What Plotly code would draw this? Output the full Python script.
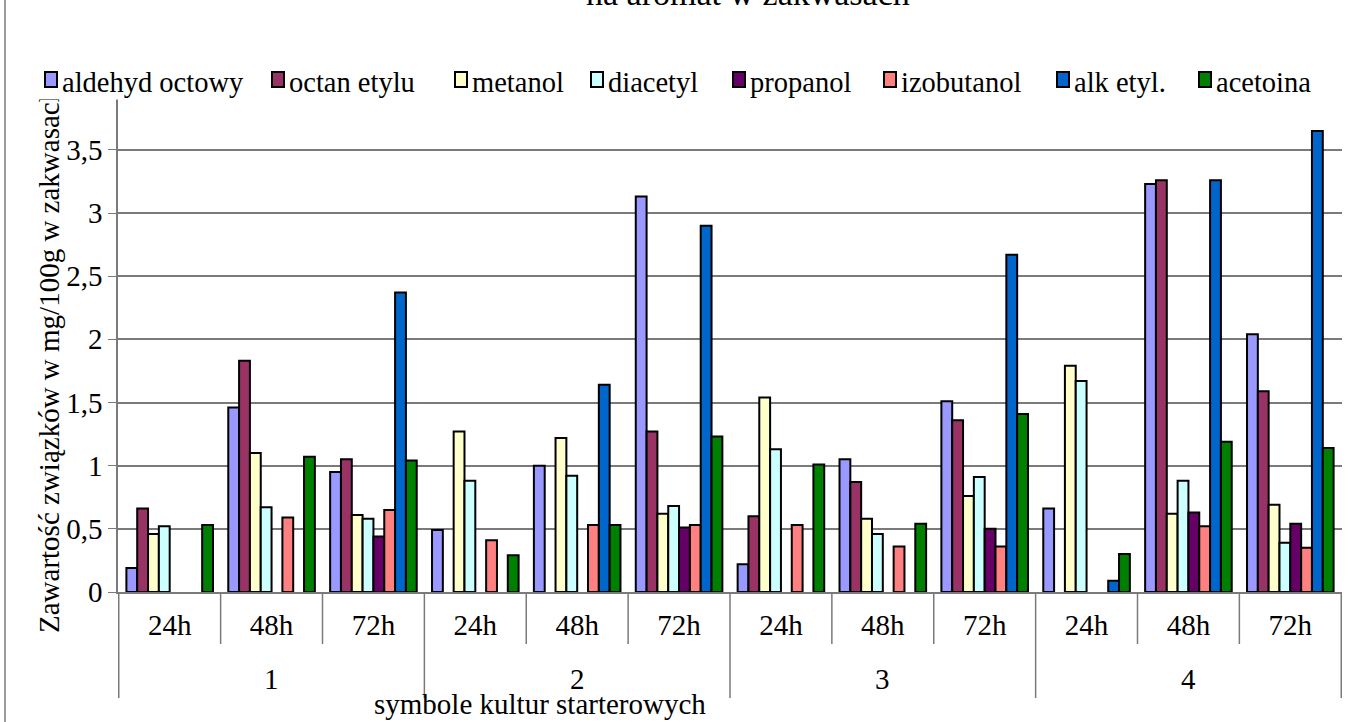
import plotly.graph_objects as go

# Starter culture symbols (outer level) and fermentation times (inner level)
cultures = ["1", "2", "3", "4"]
times = ["24h", "48h", "72h"]

# Compound contents in mg/100g, ordered culture by culture, 24h/48h/72h (None = not detected)
aldehyd_octowy = [0.19, 1.46, 0.95, 0.49, 1.00, 3.13, 0.22, 1.05, 1.51, 0.66, 3.23, 2.04]
octan_etylu = [0.66, 1.83, 1.05, None, None, 1.27, 0.60, 0.87, 1.36, None, 3.26, 1.59]
metanol = [0.46, 1.10, 0.61, 1.27, 1.22, 0.62, 1.54, 0.58, 0.76, 1.79, 0.62, 0.69]
diacetyl = [0.52, 0.67, 0.58, 0.88, 0.92, 0.68, 1.13, 0.46, 0.91, 1.67, 0.88, 0.39]
propanol = [None, None, 0.44, None, None, 0.51, None, None, 0.50, None, 0.63, 0.54]
izobutanol = [None, 0.59, 0.65, 0.41, 0.53, 0.53, 0.53, 0.36, 0.36, None, 0.52, 0.35]
alk_etyl = [None, None, 2.37, None, 1.64, 2.90, None, None, 2.67, 0.09, 3.26, 3.65]
acetoina = [0.53, 1.07, 1.04, 0.29, 0.53, 1.23, 1.01, 0.54, 1.41, 0.30, 1.19, 1.14]

series = [
    ("aldehyd octowy", aldehyd_octowy, "#9999FF"),
    ("octan etylu", octan_etylu, "#993366"),
    ("metanol", metanol, "#FFFFCC"),
    ("diacetyl", diacetyl, "#CCFFFF"),
    ("propanol", propanol, "#660066"),
    ("izobutanol", izobutanol, "#FF8080"),
    ("alk etyl.", alk_etyl, "#0066CC"),
    ("acetoina", acetoina, "#008000"),
]

FONT = "Liberation Serif"
FS = 29
LEG_FS = 28.5
GRID = "#7a7a7a"

W, H = 1355, 722
M_L, M_R, M_T, M_B = 118, 13, 93, 130
PLOT_W = W - M_L - M_R
PLOT_H = H - M_T - M_B


def px_x(px):
    """Page pixel column -> paper x."""
    return (px - M_L) / PLOT_W


def px_y(py):
    """Page pixel row -> paper y."""
    return (H - M_B - py) / PLOT_H


# One category per culture/time pair; labels show only the time
cat_keys = [f"{c}|{t}" for c in cultures for t in times]
cat_text = [t for c in cultures for t in times]

fig = go.Figure()
for name, vals, color in series:
    fig.add_trace(go.Bar(
        name=name,
        x=cat_keys,
        y=vals,
        marker=dict(color=color, line=dict(color="black", width=2)),
    ))

fig.update_layout(
    width=W,
    height=H,
    barmode="group",
    bargap=0.15,
    bargroupgap=0,
    separators=", ",
    plot_bgcolor="white",
    paper_bgcolor="white",
    font=dict(family=FONT, size=FS, color="black"),
    margin=dict(l=M_L, r=M_R, t=M_T, b=M_B),
    showlegend=False,
    xaxis=dict(
        type="category",
        categoryorder="array", categoryarray=cat_keys,
        tickvals=cat_keys, ticktext=cat_text,
        showline=True, linecolor=GRID, linewidth=1.5,
        ticks="", ticklabelstandoff=6,
        tickfont=dict(family=FONT, size=FS),
        showgrid=False,
    ),
    yaxis=dict(
        range=[0, 3.95],
        dtick=0.5,
        showgrid=True, gridcolor=GRID, gridwidth=1.5,
        showline=True, linecolor=GRID, linewidth=1.5,
        ticks="outside", ticklen=8, tickcolor=GRID,
        tickfont=dict(family=FONT, size=FS),
        zeroline=False,
    ),
)

n_t = len(times)

# Dividers below the axis: short ones between times, long ones between cultures
for i in range(len(cat_keys) + 1):
    outer = i % n_t == 0
    fig.add_shape(type="line", xref="x", yref="paper",
                  x0=i - 0.5, x1=i - 0.5, y0=0, y1=px_y(698 if outer else 644),
                  line=dict(color=GRID, width=1.5))

# Culture labels centred under their three time categories
for j, c in enumerate(cultures):
    fig.add_annotation(
        text=c, xref="x", yref="paper",
        x=cat_keys[j * n_t + 1], y=px_y(679),
        showarrow=False, xanchor="center", yanchor="middle",
        font=dict(family=FONT, size=FS),
    )

# Axis titles
fig.add_annotation(
    text="Zawartość związków w mg/100g w zakwasach",
    xref="paper", yref="paper", x=px_x(49), y=px_y(360),
    xanchor="center", yanchor="middle",
    textangle=-90, showarrow=False,
    font=dict(family=FONT, size=FS),
)
fig.add_annotation(
    text="symbole kultur starterowych",
    xref="paper", yref="paper", x=px_x(540), y=px_y(704),
    xanchor="center", yanchor="middle",
    showarrow=False,
    font=dict(family=FONT, size=FS),
)
# Chart title (upper part runs past the top edge)
fig.add_annotation(
    text="na aromat w zakwasach",
    xref="paper", yref="paper", x=px_x(748), y=px_y(-6),
    showarrow=False, xanchor="center", yanchor="middle",
    font=dict(family=FONT, size=34),
)

# Legend row: white band, then a swatch and a label per series
LEG_TOP, LEG_BOT = 62, 96
fig.add_annotation(
    text=" ", xref="paper", yref="paper",
    x=px_x(30), y=px_y(LEG_TOP), xanchor="left", yanchor="top",
    width=1300, height=LEG_BOT - LEG_TOP, bgcolor="white",
    showarrow=False, font=dict(size=2),
)
legend_text_left = [61, 288, 471, 607, 749, 900, 1073, 1215]
SW_W, SW_H = 10, 13
for (name, _, color), tx in zip(series, legend_text_left):
    fig.add_annotation(
        text=" ", xref="paper", yref="paper",
        x=px_x(tx - 17), y=px_y(71), xanchor="left", yanchor="top",
        width=SW_W, height=SW_H, bgcolor=color,
        bordercolor="black", borderwidth=2, borderpad=0,
        showarrow=False, font=dict(size=2),
    )
    fig.add_annotation(
        text=name, xref="paper", yref="paper",
        x=px_x(tx - 1), y=px_y(82), xanchor="left", yanchor="middle",
        showarrow=False, font=dict(family=FONT, size=LEG_FS),
    )

# Chart area border on the left
fig.add_shape(type="line", xref="paper", yref="paper",
              x0=px_x(5), x1=px_x(5), y0=px_y(H + 5), y1=px_y(-5),
              line=dict(color=GRID, width=1.5))

fig.write_html("out.html")
